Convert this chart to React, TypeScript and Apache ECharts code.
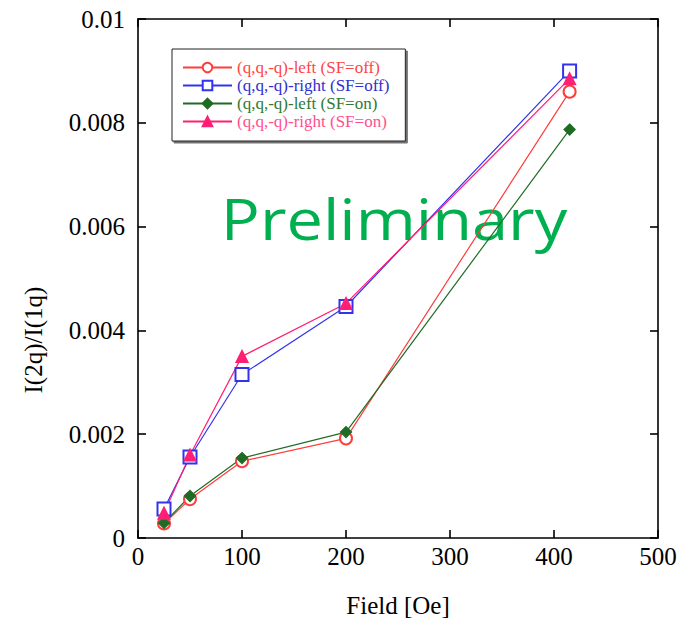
import React, { useEffect, useRef } from "react";
import * as echarts from "echarts";

const fields = [25, 50, 100, 200, 415];
const leftOff = [0.00028, 0.00075, 0.00148, 0.00192, 0.0086];
const rightOff = [0.00056, 0.00156, 0.00315, 0.00446, 0.009];
const leftOn = [0.00029, 0.00081, 0.00154, 0.00204, 0.00787];
const rightOn = [0.00048, 0.0016, 0.0035, 0.00452, 0.00885];
const seriesNames = [
  "(q,q,-q)-left (SF=off)",
  "(q,q,-q)-right (SF=off)",
  "(q,q,-q)-left (SF=on)",
  "(q,q,-q)-right (SF=on)",
];
const seriesColors = ["#ff3d3d", "#3333ee", "#1f6b25", "#ff1f74"];
const legendTextColors = ["#ff4545", "#2f2fd0", "#2e7a34", "#ff4f8f"];
const xTicks = { min: 0, max: 500, interval: 100 };
const yTicks = { min: 0, max: 0.01, interval: 0.002 };

const SERIF = "'Liberation Serif', 'Times New Roman', serif";

export default function App() {
  const ref = useRef<HTMLDivElement>(null);
  useEffect(() => {
    if (!ref.current) return;
    const chart = echarts.init(ref.current, null, { renderer: "svg" });
    const values = [leftOff, rightOff, leftOn, rightOn];
    const symbols = ["emptyCircle", "emptyRect", "diamond", "triangle"];
    const sizes = [12, 13, 11, 12];
    const axisCommon = {
      axisLine: { show: true, onZero: false, lineStyle: { color: "#000", width: 1.6 } },
      axisTick: { show: true, inside: true, length: 8, lineStyle: { color: "#000", width: 1.6 } },
      splitLine: { show: false },
    };
    const grid = { left: 138, top: 19, width: 520, height: 519, containLabel: false };
    chart.setOption({
      animation: false,
      backgroundColor: "#fff",
      grid,
      xAxis: [
        {
          type: "value",
          position: "bottom",
          ...xTicks,
          ...axisCommon,
          axisLabel: { color: "#000", fontFamily: SERIF, fontSize: 25, margin: 6 },
        },
        {
          type: "value",
          position: "top",
          ...xTicks,
          ...axisCommon,
          axisLabel: { show: false },
        },
      ],
      yAxis: [
        {
          type: "value",
          position: "left",
          ...yTicks,
          ...axisCommon,
          axisLabel: {
            color: "#000",
            fontFamily: SERIF,
            fontSize: 25,
            margin: 13,
            formatter: (v: number) => String(Number(v.toFixed(4))),
          },
        },
        {
          type: "value",
          position: "right",
          ...yTicks,
          ...axisCommon,
          axisLabel: { show: false },
        },
      ],
      legend: {
        orient: "vertical",
        left: 172,
        top: 49,
        itemWidth: 49,
        itemHeight: 12,
        itemGap: 1,
        padding: [10, 16, 11, 10],
        backgroundColor: "#fff",
        borderColor: "#222",
        borderWidth: 1,
        shadowColor: "rgba(0,0,0,0.55)",
        shadowOffsetX: 2,
        shadowOffsetY: 2,
        shadowBlur: 0,
        textStyle: { fontFamily: SERIF, fontSize: 17, lineHeight: 17 },
        data: seriesNames.map((n, i) => ({
          name: n,
          textStyle: { color: legendTextColors[i] },
        })),
      },
      graphic: [
        {
          type: "text",
          z: 1,
          x: 394,
          y: 218,
          scaleX: 1.16,
          style: {
            text: "Preliminary",
            fill: "#00b050",
            font: "56px 'Open Sans', sans-serif",
            textAlign: "center",
            textVerticalAlign: "middle",
          },
        },
        {
          type: "text",
          x: 33,
          y: 340,
          rotation: Math.PI / 2,
          style: {
            text: "I(2q)/I(1q)",
            fill: "#000",
            font: "25px " + SERIF,
            textAlign: "center",
            textVerticalAlign: "middle",
          },
        },
        {
          type: "text",
          x: 398,
          y: 605,
          style: {
            text: "Field [Oe]",
            fill: "#000",
            font: "25px " + SERIF,
            textAlign: "center",
            textVerticalAlign: "middle",
          },
        },
      ],
      series: values.map((vals, i) => ({
        name: seriesNames[i],
        type: "line",
        xAxisIndex: 0,
        yAxisIndex: 0,
        z: 5,
        data: fields.map((f, j) => [f, vals[j]]),
        symbol: symbols[i],
        symbolSize: sizes[i],
        showAllSymbol: true,
        color: seriesColors[i],
        lineStyle: { color: seriesColors[i], width: 1.2 },
        itemStyle: { color: seriesColors[i], borderColor: seriesColors[i], borderWidth: 1.3 },
      })),
    });
    return () => chart.dispose();
  }, []);
  return (
    <div
      ref={ref}
      style={{ position: "absolute", left: 0, top: 0, width: 680, height: 632 }}
    />
  );
}
